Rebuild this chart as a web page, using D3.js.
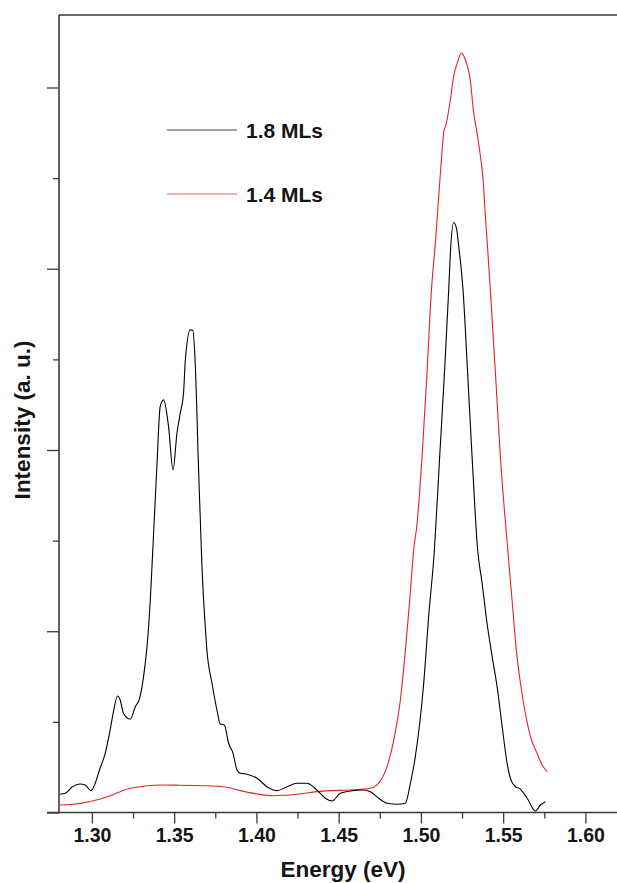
<!DOCTYPE html>
<html>
<head>
<meta charset="utf-8">
<script src="https://cdn.jsdelivr.net/npm/d3@7/dist/d3.min.js"></script>
<style>
  html, body { margin: 0; padding: 0; background: #fff; }
  svg { display: block; }
  text { font-family: "Liberation Sans", Arial, Helvetica, sans-serif; font-weight: bold; fill: #151515; }
</style>
</head>
<body>
<svg id="chart" width="617" height="883"></svg>
<script>
// ---- data ----
const seriesNames = ["1.8 MLs", "1.4 MLs"];
const seriesColors = ["#000000", "#e3261f"];

const energy18 = [1.2807,1.2838,1.2878,1.2929,1.2959,1.2994,1.3020,1.3046,1.3081,1.3111,1.3131,1.3156,1.3172,1.3192,1.3233,1.3264,1.3290,1.3314,1.3335,1.3355,1.3375,1.3395,1.3415,1.3436,1.3466,1.3493,1.3517,1.3537,1.3557,1.3568,1.3598,1.3614,1.3628,1.3648,1.3669,1.3689,1.3699,1.3730,1.3760,1.3780,1.3805,1.3831,1.3858,1.3882,1.3902,1.3943,1.4004,1.4064,1.4125,1.4186,1.4247,1.4308,1.4368,1.4419,1.4460,1.4510,1.4571,1.4652,1.4693,1.4743,1.4794,1.4855,1.4905,1.4936,1.4966,1.5017,1.5047,1.5082,1.5114,1.5143,1.5169,1.5179,1.5199,1.5216,1.5230,1.5256,1.5284,1.5311,1.5345,1.5372,1.5402,1.5433,1.5463,1.5494,1.5524,1.5544,1.5574,1.5601,1.5646,1.5696,1.5727,1.5757];
const intensity18 = [0.201,0.212,0.278,0.315,0.304,0.241,0.322,0.469,0.653,0.911,1.113,1.286,1.242,1.095,1.029,1.168,1.260,1.499,1.830,2.345,3.082,3.817,4.479,4.553,4.258,3.780,4.185,4.406,4.627,4.994,5.326,5.318,4.958,3.817,2.713,2.051,1.794,1.426,1.131,0.977,0.966,0.764,0.653,0.469,0.433,0.422,0.377,0.285,0.241,0.285,0.322,0.322,0.248,0.157,0.127,0.212,0.237,0.248,0.230,0.157,0.102,0.091,0.102,0.322,0.616,1.426,2.161,2.897,3.927,4.848,5.767,6.172,6.510,6.448,6.245,5.767,4.848,3.927,2.897,2.530,2.088,1.720,1.389,0.947,0.543,0.377,0.285,0.263,0.157,0.017,0.083,0.119];

const energy14 = [1.2801,1.2888,1.2990,1.3051,1.3111,1.3172,1.3233,1.3294,1.3375,1.3456,1.3537,1.3699,1.3821,1.3902,1.4004,1.4104,1.4247,1.4368,1.4449,1.4571,1.4693,1.4733,1.4794,1.4839,1.4875,1.4906,1.4932,1.4956,1.4977,1.5007,1.5037,1.5064,1.5088,1.5108,1.5123,1.5138,1.5155,1.5179,1.5199,1.5224,1.5246,1.5266,1.5301,1.5321,1.5345,1.5362,1.5378,1.5392,1.5406,1.5422,1.5453,1.5483,1.5528,1.5554,1.5580,1.5605,1.5635,1.5666,1.5706,1.5737,1.5767];
const intensity14 = [0.083,0.091,0.121,0.149,0.185,0.230,0.267,0.285,0.300,0.304,0.300,0.296,0.278,0.241,0.204,0.185,0.201,0.230,0.241,0.248,0.267,0.304,0.506,0.837,1.242,1.794,2.345,2.897,3.192,3.927,4.848,5.767,6.283,6.797,7.166,7.497,7.607,7.864,8.121,8.287,8.380,8.325,8.066,7.717,7.459,7.238,6.981,6.576,6.209,5.767,4.848,3.927,2.897,2.345,1.794,1.426,1.095,0.837,0.653,0.524,0.450];

const xMajorTicks = [1.30, 1.35, 1.40, 1.45, 1.50, 1.55, 1.60];
const xMinorTicks = [1.325, 1.375, 1.425, 1.475, 1.525, 1.575];
const yMajorTicks = [0, 2, 4, 6, 8];
const yMinorTicks = [1, 3, 5, 7];
const xTitle = "Energy (eV)";
const yTitle = "Intensity (a. u.)";

// ---- layout ----
const svg = d3.select("#chart");
const mLeft = 59, mTop = 15, mBottom = 812.5, mRight = 617.5;

const x = d3.scaleLinear().domain([1.28, 1.6195]).range([mLeft, mRight]);
const y = d3.scaleLinear().domain([0, 8.8]).range([mBottom, mTop]);

const axisColor = "#3a3a3a";

// x axis (major)
const gx = svg.append("g").attr("transform", `translate(0,${mBottom})`)
  .call(d3.axisBottom(x).tickValues(xMajorTicks).tickSize(11).tickPadding(5).tickFormat(d3.format(".2f")));
gx.select(".domain").remove();
gx.selectAll(".tick line").attr("stroke", axisColor).attr("stroke-width", 1.3);
gx.selectAll(".tick text").attr("font-size", 19.5).attr("dy", "0.71em")
  .attr("font-family", "Liberation Sans, Arial, sans-serif").attr("font-weight", "bold").attr("fill", "#151515");

// x axis (minor)
const gxm = svg.append("g").attr("transform", `translate(0,${mBottom})`)
  .call(d3.axisBottom(x).tickValues(xMinorTicks).tickSize(6).tickFormat(""));
gxm.select(".domain").remove();
gxm.selectAll(".tick line").attr("stroke", axisColor).attr("stroke-width", 1.3);

// y axis (major / minor), no labels
const gy = svg.append("g").attr("transform", `translate(${mLeft},0)`)
  .call(d3.axisLeft(y).tickValues(yMajorTicks).tickSize(12).tickFormat(""));
gy.select(".domain").remove();
gy.selectAll(".tick line").attr("stroke", axisColor).attr("stroke-width", 1.3);
const gym = svg.append("g").attr("transform", `translate(${mLeft},0)`)
  .call(d3.axisLeft(y).tickValues(yMinorTicks).tickSize(6).tickFormat(""));
gym.select(".domain").remove();
gym.selectAll(".tick line").attr("stroke", axisColor).attr("stroke-width", 1.3);

// frame lines
svg.append("line").attr("x1", mLeft - 12).attr("x2", 617).attr("y1", mBottom).attr("y2", mBottom)
  .attr("stroke", axisColor).attr("stroke-width", 1.6);
svg.append("line").attr("x1", mLeft).attr("x2", mLeft).attr("y1", mTop).attr("y2", mBottom)
  .attr("stroke", axisColor).attr("stroke-width", 1.6);
svg.append("line").attr("x1", mLeft).attr("x2", 617).attr("y1", mTop).attr("y2", mTop)
  .attr("stroke", axisColor).attr("stroke-width", 1.3);

// curves
const line = d3.line().curve(d3.curveMonotoneX).x(d => x(d[0])).y(d => y(d[1]));
const data18 = energy18.map((e, i) => [e, intensity18[i]]);
const data14 = energy14.map((e, i) => [e, intensity14[i]]);

svg.append("path").datum(data14).attr("d", line)
  .attr("fill", "none").attr("stroke", seriesColors[1]).attr("stroke-width", 1.1);
svg.append("path").datum(data18).attr("d", line)
  .attr("fill", "none").attr("stroke", seriesColors[0]).attr("stroke-width", 1.1);

// legend
const legendY = [130, 194];
seriesNames.forEach((name, i) => {
  svg.append("line").attr("x1", 167).attr("x2", 237).attr("y1", legendY[i]).attr("y2", legendY[i])
    .attr("stroke", seriesColors[i]).attr("stroke-width", 1.1).attr("stroke-opacity", 0.75);
  svg.append("text").attr("x", 246).attr("y", legendY[i] + 8)
    .attr("font-size", 21).text(name);
});

// axis titles
svg.append("text").attr("x", 343).attr("y", 877).attr("text-anchor", "middle")
  .attr("font-size", 22.5).text(xTitle);
svg.append("text").attr("transform", "translate(30,420) rotate(-90)").attr("text-anchor", "middle")
  .attr("font-size", 22.5).text(yTitle);
</script>
</body>
</html>
